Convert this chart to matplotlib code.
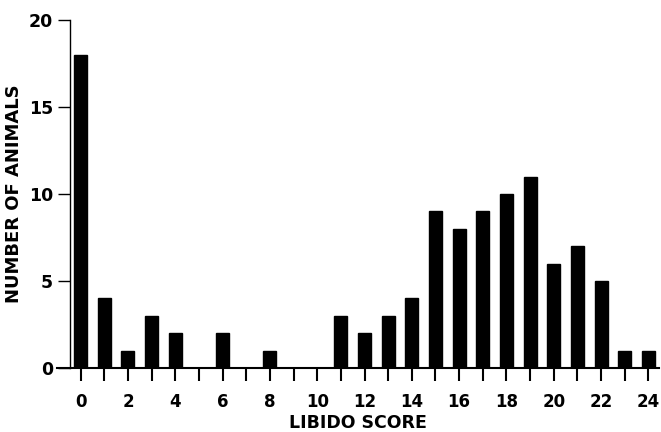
import matplotlib.pyplot as plt
import numpy as np

import matplotlib as mpl

mpl.rcParams['font.family'] = ['DejaVu Sans']
mpl.rcParams['font.weight'] = 'bold'

scores = list(range(25))
animals = [18, 4, 1, 3, 2, 0, 2, 0, 1, 0, 0, 3, 2, 3, 4, 9, 8, 9, 10, 11, 6, 7, 5, 1, 1]
xtick_labels = [str(s) if s % 2 == 0 else '' for s in scores]
yticks = [0, 5, 10, 15, 20]

fig = plt.figure(figsize=(6.61, 4.32), dpi=100)
ax = fig.add_axes([57 / 661, 1 - 368 / 432, (659 - 57) / 661, (368 - 20) / 432])

ax.bar(scores, animals, width=0.55, color='black', edgecolor='black')

ax.set_xlim(-1.0, 24.45)
ax.set_ylim(0, 20)

ax.spines['top'].set_visible(False)
ax.spines['right'].set_visible(False)
ax.spines['left'].set_position(('data', -0.46))
ax.spines['left'].set_linewidth(1.0)
ax.spines['bottom'].set_linewidth(1.5)

ax.set_xticks(scores)
ax.set_xticklabels(xtick_labels, fontsize=12, fontweight='bold')
ax.set_yticks(yticks)
ax.set_yticklabels([str(v) for v in yticks], fontsize=12.5, fontweight='bold')
ax.tick_params(axis='x', direction='out', length=9, width=1.5, pad=9)
ax.tick_params(axis='y', direction='out', length=9, width=1.0, pad=3)

ax.set_xlabel('LIBIDO SCORE', fontsize=12.5, fontweight='bold', labelpad=2)
ax.set_ylabel('NUMBER OF ANIMALS', fontsize=13, fontweight='bold', labelpad=4)

fig.savefig('out.png', dpi=100)
